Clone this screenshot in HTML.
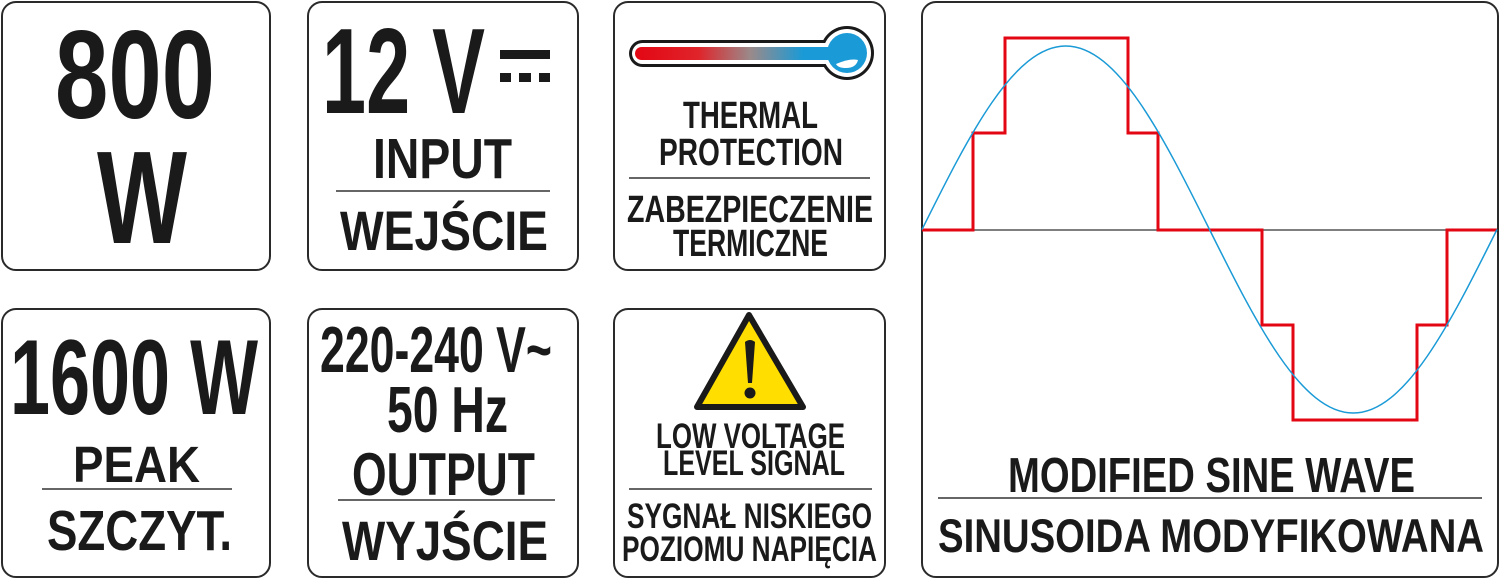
<!DOCTYPE html>
<html><head><meta charset="utf-8"><style>
html,body{margin:0;padding:0;background:#fff;}
svg{display:block}
text{font-family:"Liberation Sans",sans-serif;font-weight:bold;fill:#1a1a1a;}
</style></head><body>
<svg width="1500" height="579" viewBox="0 0 1500 579" xmlns="http://www.w3.org/2000/svg">
<defs>
<linearGradient id="tg" x1="0" x2="1" y1="0" y2="0">
<stop offset="0" stop-color="#e30613"/><stop offset="0.3" stop-color="#e0242a"/><stop offset="0.55" stop-color="#9a8a8a"/><stop offset="0.8" stop-color="#1a9ad6"/><stop offset="1" stop-color="#1a9ad6"/>
</linearGradient>
</defs>
<g fill="#fff" stroke="#2a2a2a" stroke-width="2">
<rect x="2" y="2" width="268" height="268" rx="14"/>
<rect x="308" y="2" width="270" height="268" rx="14"/>
<rect x="614" y="2" width="271" height="268" rx="14"/>
<rect x="922" y="2" width="576" height="575" rx="14"/>
<rect x="2" y="309" width="268" height="268" rx="14"/>
<rect x="308" y="309" width="270" height="268" rx="14"/>
<rect x="614" y="309" width="271" height="268" rx="14"/>
</g>
<!-- box1 -->
<text x="135" y="118" font-size="125" text-anchor="middle" textLength="160" lengthAdjust="spacingAndGlyphs">800</text>
<text x="142" y="243" font-size="132" text-anchor="middle" textLength="90" lengthAdjust="spacingAndGlyphs">W</text>
<!-- box2 -->
<text x="322" y="113" font-size="122" textLength="163" lengthAdjust="spacingAndGlyphs">12 V</text>
<rect x="500" y="50" width="50" height="9" fill="#1a1a1a"/>
<rect x="500" y="73" width="11" height="9" fill="#1a1a1a"/>
<rect x="519" y="73" width="12" height="9" fill="#1a1a1a"/>
<rect x="539" y="73" width="11" height="9" fill="#1a1a1a"/>
<text x="373" y="178" font-size="57" textLength="139" lengthAdjust="spacingAndGlyphs">INPUT</text>
<line x1="336" y1="191" x2="550" y2="191" stroke="#333" stroke-width="1.5"/>
<text x="340" y="250" font-size="56" textLength="208" lengthAdjust="spacingAndGlyphs">WEJŚCIE</text>
<!-- box3 thermometer -->
<rect x="629" y="40" width="220" height="27" rx="13.5" fill="#1a1a1a"/>
<circle cx="847" cy="53" r="27" fill="#1a1a1a"/>
<rect x="632" y="43" width="215" height="21" rx="10.5" fill="#fff"/>
<circle cx="847" cy="53" r="24" fill="#fff"/>
<rect x="635" y="47" width="210" height="13" rx="6.5" fill="url(#tg)"/>
<circle cx="847" cy="53" r="20" fill="#1a9ad6"/>
<path d="M836 64 Q850 58 858 60 Q856 68 846 68 Q838 68 836 64 Z" fill="#fff"/>
<text x="683" y="128" font-size="38" textLength="135" lengthAdjust="spacingAndGlyphs">THERMAL</text>
<text x="659" y="165" font-size="38" textLength="184" lengthAdjust="spacingAndGlyphs">PROTECTION</text>
<line x1="629" y1="178" x2="870" y2="178" stroke="#333" stroke-width="1.5"/>
<text x="627" y="222" font-size="38" textLength="246" lengthAdjust="spacingAndGlyphs">ZABEZPIECZENIE</text>
<text x="673" y="256" font-size="38" textLength="155" lengthAdjust="spacingAndGlyphs">TERMICZNE</text>
<!-- bottom box1 -->
<text x="10" y="414" font-size="107" textLength="248" lengthAdjust="spacingAndGlyphs">1600 W</text>
<text x="73" y="482" font-size="51" textLength="127" lengthAdjust="spacingAndGlyphs">PEAK</text>
<line x1="42" y1="489" x2="232" y2="489" stroke="#333" stroke-width="1.5"/>
<text x="47" y="550" font-size="57" textLength="185" lengthAdjust="spacingAndGlyphs">SZCZYT.</text>
<!-- bottom box2 -->
<text x="320" y="372" font-size="65" textLength="232" lengthAdjust="spacingAndGlyphs">220-240 V~</text>
<text x="387" y="432" font-size="65" textLength="121" lengthAdjust="spacingAndGlyphs">50 Hz</text>
<text x="352" y="495" font-size="60" textLength="183" lengthAdjust="spacingAndGlyphs">OUTPUT</text>
<line x1="338" y1="500" x2="555" y2="500" stroke="#333" stroke-width="1.5"/>
<text x="342" y="560" font-size="56" textLength="206" lengthAdjust="spacingAndGlyphs">WYJŚCIE</text>
<!-- bottom box3 -->
<path d="M749 315 L803 407 L697 407 Z" fill="#ffde00" stroke="#1a1a1a" stroke-width="6" stroke-linejoin="round"/>
<path d="M745 342 Q750 338 755 342 L752 383 L748 383 Z" fill="#1a1a1a"/>
<circle cx="750" cy="393" r="5.5" fill="#1a1a1a"/>
<text x="656" y="448" font-size="35" textLength="189" lengthAdjust="spacingAndGlyphs">LOW VOLTAGE</text>
<text x="663" y="475" font-size="35" textLength="182" lengthAdjust="spacingAndGlyphs">LEVEL SIGNAL</text>
<line x1="629" y1="489" x2="872" y2="489" stroke="#333" stroke-width="1.5"/>
<text x="627" y="528" font-size="35" textLength="245" lengthAdjust="spacingAndGlyphs">SYGNAŁ NISKIEGO</text>
<text x="622" y="561" font-size="35" textLength="255" lengthAdjust="spacingAndGlyphs">POZIOMU NAPIĘCIA</text>
<!-- wave -->
<line x1="922" y1="230" x2="1497" y2="230" stroke="#333" stroke-width="1.2"/>
<polyline fill="none" stroke="#e30613" stroke-width="3" points="922,230 973,230 973,133 1005,133 1005,38 1128,38 1128,133 1158,133 1158,230 1262,230 1262,325 1293,325 1293,420 1417,420 1417,325 1447,325 1447,230 1497,230"/>
<path fill="none" stroke="#1a9ad6" stroke-width="1.5" d="M922,229.5 C968.88,135.5 1013.72,46 1065.75,46 C1117.77,46 1162.62,135.5 1209.5,229.5 C1256.38,323.5 1301.22,413 1353.25,413 C1405.27,413 1450.12,323.5 1497,229.5"/>
<text x="1008" y="492" font-size="49" textLength="407" lengthAdjust="spacingAndGlyphs">MODIFIED SINE WAVE</text>
<line x1="938" y1="498" x2="1482" y2="498" stroke="#333" stroke-width="1.5"/>
<text x="938" y="552" font-size="47" textLength="546" lengthAdjust="spacingAndGlyphs">SINUSOIDA MODYFIKOWANA</text>
</svg>
</body></html>
